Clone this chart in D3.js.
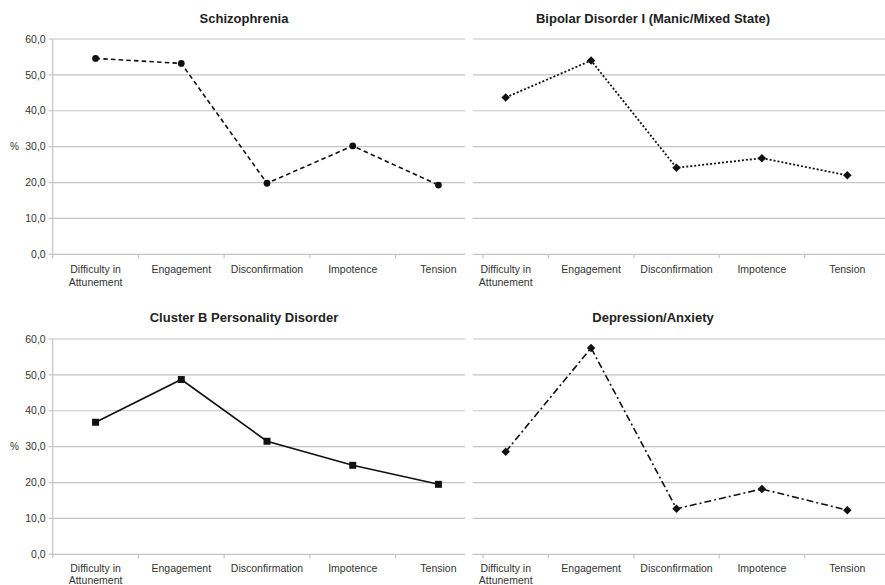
<!DOCTYPE html>
<html>
<head>
<meta charset="utf-8">
<script src="https://cdn.jsdelivr.net/npm/d3@7"></script>
<style>
  html, body { margin: 0; padding: 0; background: #fff; }
  svg { display: block; font-family: "Liberation Sans", Arial, Helvetica, sans-serif; }
</style>
</head>
<body>
<svg id="chart" width="885" height="585"></svg>
<script>
// Dimensions of the therapist response profile, shared by all four panels
const categories = ["Difficulty in\nAttunement", "Engagement", "Disconfirmation", "Impotence", "Tension"];
const yTicks = [0, 10, 20, 30, 40, 50, 60];

// Percentages per diagnostic group
const schizophrenia = [54.6, 53.2, 19.8, 30.2, 19.3];
const bipolar = [43.7, 54.0, 24.1, 26.8, 22.0];
const clusterB = [36.8, 48.7, 31.5, 24.8, 19.5];
const depression = [28.6, 57.5, 12.7, 18.2, 12.3];

const panelTitles = ["Schizophrenia", "Bipolar Disorder I (Manic/Mixed State)",
                     "Cluster B Personality Disorder", "Depression/Anxiety"];

const svg = d3.select("#chart");
const fmt = v => d3.format(".1f")(v).replace(".", ",");

// Panel layout: column (left/right) and row (top/bottom)
const cols = [
  { bandStart: 52.7, bandEnd: 481.3, gridStart: 52.7, gridEnd: 465, showY: true, titleX: 244, firstTick: null },
  { bandStart: 463, bandEnd: 890, gridStart: 473, gridEnd: 885, showY: false, titleX: 653, firstTick: 10 }
];
const rows = [
  { top: 39, bottom: 254.3, titleY: 23, labelY: 273, lineGap: 13 },
  { top: 339, bottom: 554.3, titleY: 322, labelY: 571.5, lineGap: 12 }
];

const panels = [
  { col: 0, row: 0, values: schizophrenia, dash: "4.5,3.2", width: 1.6, marker: "circle" },
  { col: 1, row: 0, values: bipolar, dash: "2,2", width: 1.8, marker: "diamond" },
  { col: 0, row: 1, values: clusterB, dash: null, width: 1.6, marker: "square" },
  { col: 1, row: 1, values: depression, dash: "7,3,2,3", width: 1.6, marker: "diamond" }
];

const gridColor = "#c4c4c4";
const textColor = "#333";

// Rotated-square marker (rhombus with equal diagonals)
const rhombus = {
  draw(ctx, size) {
    const r = Math.sqrt(size / 2);
    ctx.moveTo(0, -r); ctx.lineTo(r, 0); ctx.lineTo(0, r); ctx.lineTo(-r, 0); ctx.closePath();
  }
};

panels.forEach((p, i) => {
  const c = cols[p.col], r = rows[p.row];
  const x = d3.scaleBand().domain(categories).range([c.bandStart, c.bandEnd]).padding(0);
  const y = d3.scaleLinear().domain([0, 60]).range([r.bottom, r.top]);
  const g = svg.append("g");

  // Title
  g.append("text")
    .attr("x", c.titleX).attr("y", r.titleY)
    .attr("text-anchor", "middle")
    .attr("font-size", 13).attr("font-weight", "bold")
    .attr("fill", "#222")
    .text(panelTitles[i]);

  // Horizontal gridlines
  g.selectAll(".grid").data(yTicks.filter(t => t > 0)).enter().append("line")
    .attr("x1", c.gridStart).attr("x2", c.gridEnd)
    .attr("y1", d => y(d)).attr("y2", d => y(d))
    .attr("stroke", gridColor).attr("stroke-width", 1.2);

  // x-axis baseline
  g.append("line")
    .attr("x1", c.gridStart).attr("x2", c.gridEnd)
    .attr("y1", y(0)).attr("y2", y(0))
    .attr("stroke", gridColor).attr("stroke-width", 1.2);

  // x-axis tick marks at band boundaries
  const tickXs = categories.slice(1).map(d => x(d));
  if (c.firstTick !== null) tickXs.unshift(c.gridStart + c.firstTick);
  g.selectAll(".xtick").data(tickXs).enter().append("line")
    .attr("x1", d => d).attr("x2", d => d)
    .attr("y1", y(0)).attr("y2", y(0) + 4)
    .attr("stroke", gridColor).attr("stroke-width", 1.2);

  // Category labels (two lines where needed)
  categories.forEach(cat => {
    const t = g.append("text")
      .attr("x", x(cat) + x.bandwidth() / 2).attr("y", r.labelY)
      .attr("text-anchor", "middle")
      .attr("font-size", 10.5).attr("fill", textColor);
    cat.split("\n").forEach((line, k) => {
      t.append("tspan").attr("x", x(cat) + x.bandwidth() / 2).attr("dy", k === 0 ? 0 : r.lineGap).text(line);
    });
  });

  // y axis with labels on the left column only
  if (c.showY) {
    g.append("line")
      .attr("x1", c.gridStart).attr("x2", c.gridStart)
      .attr("y1", y(60)).attr("y2", y(0) + 4)
      .attr("stroke", gridColor).attr("stroke-width", 1.2);
    g.selectAll(".ytick").data(yTicks).enter().append("line")
      .attr("x1", c.gridStart - 4).attr("x2", c.gridStart)
      .attr("y1", d => y(d)).attr("y2", d => y(d))
      .attr("stroke", gridColor).attr("stroke-width", 1.2);
    g.selectAll(".ylab").data(yTicks).enter().append("text")
      .attr("x", c.gridStart - 7).attr("y", d => y(d))
      .attr("dy", "0.35em")
      .attr("text-anchor", "end")
      .attr("font-size", 10.5).attr("fill", textColor)
      .text(fmt);
    g.append("text")
      .attr("x", 14.5).attr("y", y(30))
      .attr("dy", "0.35em")
      .attr("text-anchor", "middle")
      .attr("font-size", 10).attr("fill", textColor)
      .text("%");
  }

  // Series line
  const pts = categories.map((cat, k) => [x(cat) + x.bandwidth() / 2, y(p.values[k])]);
  const path = g.append("path")
    .attr("d", d3.line()(pts))
    .attr("fill", "none")
    .attr("stroke", "#111")
    .attr("stroke-width", p.width);
  if (p.dash) path.attr("stroke-dasharray", p.dash);

  // Markers
  const sym = {
    circle: d3.symbol().type(d3.symbolCircle).size(36),
    diamond: d3.symbol().type(rhombus).size(36),
    square: d3.symbol().type(d3.symbolSquare).size(49)
  }[p.marker];
  g.selectAll(".mk").data(pts).enter().append("path")
    .attr("d", sym)
    .attr("transform", d => `translate(${d[0]},${d[1]})`)
    .attr("fill", "#111");
});
</script>
</body>
</html>
